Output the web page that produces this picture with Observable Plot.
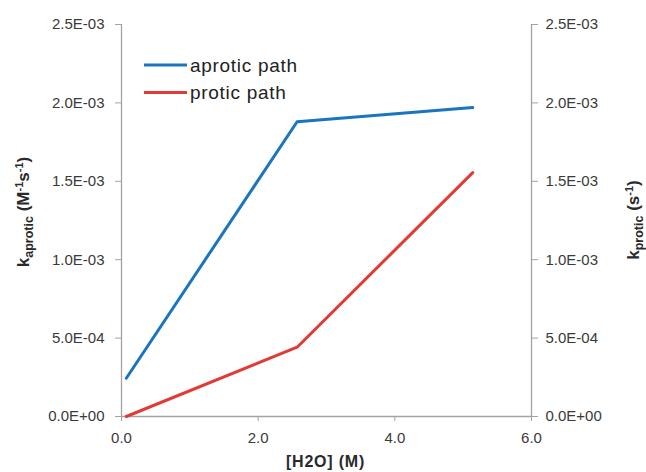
<!DOCTYPE html>
<html>
<head>
<meta charset="utf-8">
<script src="https://cdn.jsdelivr.net/npm/d3@7"></script>
<script src="https://cdn.jsdelivr.net/npm/@observablehq/plot@0.6"></script>
<style>
  html, body { margin: 0; padding: 0; background: #ffffff; }
  #chart { width: 646px; height: 472px; }
</style>
</head>
<body>
<div id="chart"></div>
<script>
// ---- data ----
const waterM = [0.07, 2.57, 5.14];                 // [H2O] (M)
const kAprotic = [2.44e-4, 1.88e-3, 1.97e-3];       // aprotic path (M^-1 s^-1)
const kProtic = [0.0, 4.42e-4, 1.555e-3];           // protic path (s^-1)
const seriesNames = ["aprotic path", "protic path"];
const xTicks = [0, 2, 4, 6];
const yTicks = [0, 0.0005, 0.001, 0.0015, 0.002, 0.0025];

const blue = "#1a74c0";
const red = "#e23b35";
const axisGray = "#a3a3a3";
const textColor = "#3a3a3a";

const aproticData = waterM.map((x, i) => ({x, y: kAprotic[i]}));
const proticData = waterM.map((x, i) => ({x, y: kProtic[i]}));

function fmtE(d) {
  const [m, e] = d.toExponential(1).split("e");
  const sign = e[0] === "-" ? "-" : "+";
  const digits = e.replace(/[+-]/, "").padStart(2, "0");
  return m + "E" + sign + digits;
}

const chart = Plot.plot({
  width: 646,
  height: 472,
  marginLeft: 121,
  marginRight: 115,
  marginTop: 24,
  marginBottom: 56,
  style: {fontFamily: "'Liberation Sans', Arial, sans-serif", fontSize: "15px", background: "#ffffff", overflow: "visible"},
  x: {domain: [0, 6]},
  y: {domain: [0, 0.0025]},
  marks: [
    Plot.ruleY([0], {stroke: axisGray, strokeWidth: 1.3}),
    Plot.ruleX([0], {stroke: axisGray, strokeWidth: 1.3}),
    Plot.ruleX([6], {stroke: axisGray, strokeWidth: 1.3}),
    Plot.axisX({ticks: xTicks, tickFormat: d => d.toFixed(1), tickSize: 5, tickPadding: 11, label: null, stroke: axisGray, fill: textColor}),
    Plot.axisY({anchor: "left", ticks: yTicks, tickFormat: fmtE, tickSize: 6, tickPadding: 11, label: null, stroke: axisGray, fill: textColor}),
    Plot.axisY({anchor: "right", ticks: yTicks, tickFormat: fmtE, tickSize: 6, tickPadding: 8, label: null, stroke: axisGray, fill: textColor}),
    Plot.line(aproticData, {x: "x", y: "y", stroke: blue, strokeWidth: 3}),
    Plot.line(proticData, {x: "x", y: "y", stroke: red, strokeWidth: 3})
  ]
});

document.getElementById("chart").appendChild(chart);

// ---- titles and legend ----
const svg = d3.select(chart);
const font = "'Liberation Sans', Arial, sans-serif";

function addTitle(x, y, parts, rotate) {
  const t = svg.append("text")
    .attr("transform", `translate(${x},${y})` + (rotate ? " rotate(-90)" : ""))
    .attr("text-anchor", "middle")
    .attr("font-family", font)
    .attr("font-weight", "bold")
    .attr("fill", "#2a2a2a");
  let shift = 0;
  for (const p of parts) {
    const dy = (p.shift || 0) - shift;
    shift = p.shift || 0;
    t.append("tspan").attr("font-size", p.size).attr("dy", dy).text(p.text);
  }
}

addTitle(29, 212, [
  {text: "k", size: 17},
  {text: "aprotic", size: 12.5, shift: 4},
  {text: " (M", size: 17},
  {text: "-1", size: 11, shift: -6},
  {text: "s", size: 17},
  {text: "-1", size: 11, shift: -6},
  {text: ")", size: 17}
], true);

addTitle(639, 220, [
  {text: "k", size: 17},
  {text: "protic", size: 12.5, shift: 4},
  {text: " (s", size: 17},
  {text: "-1", size: 11, shift: -6},
  {text: ")", size: 17}
], true);

svg.append("text")
  .attr("x", 325.5).attr("y", 467)
  .attr("text-anchor", "middle")
  .attr("font-family", font).attr("font-weight", "bold")
  .attr("font-size", 16).attr("letter-spacing", 0.8)
  .attr("fill", "#2a2a2a")
  .text("[H2O] (M)");

const legendColors = [blue, red];
seriesNames.forEach((name, i) => {
  const y = 65 + i * 27.5;
  svg.append("line")
    .attr("x1", 144).attr("x2", 187).attr("y1", y).attr("y2", y)
    .attr("stroke", legendColors[i]).attr("stroke-width", 3);
  svg.append("text")
    .attr("x", 190).attr("y", y + 6.5)
    .attr("text-anchor", "start")
    .attr("font-family", font).attr("font-size", 19)
    .attr("letter-spacing", 0.7)
    .attr("fill", "#222222")
    .text(name);
});
</script>
</body>
</html>
